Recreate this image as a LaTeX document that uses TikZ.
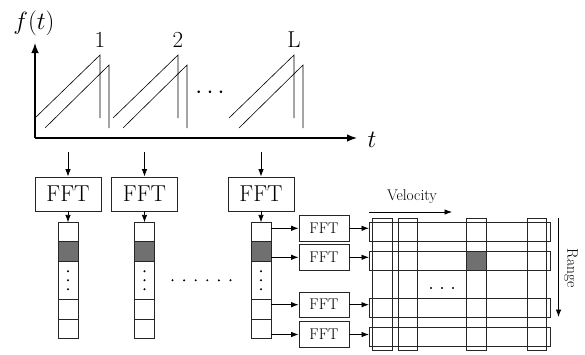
\documentclass[tikz,border=0pt]{standalone}
\usepackage{tikz}
\usetikzlibrary{arrows.meta,positioning,calc}
\definecolor{cellgray}{HTML}{707070}
\definecolor{linegray}{HTML}{262626}

\begin{document}
\begin{tikzpicture}[x=1pt,y=-1pt,
    fftbig/.style={draw=linegray,line width=0.8pt,minimum width=66pt,minimum height=34pt,inner sep=0pt,font=\fontsize{23}{27}\selectfont},
    fftsmall/.style={draw=linegray,line width=0.8pt,minimum width=50pt,minimum height=25.5pt,inner sep=0pt,font=\fontsize{15.5}{18}\selectfont},
    cell/.style={draw=linegray,line width=0.8pt,minimum width=20pt,minimum height=19.3pt,inner sep=0pt,outer sep=0pt},
    band/.style={draw=linegray,line width=0.8pt,inner sep=0pt,outer sep=0pt},
    arr/.style={-{Latex[length=7.5pt,width=5.5pt]},line width=0.8pt},
    axis/.style={-{Latex[length=10pt,width=7.5pt]},line width=1.3pt},
    lbl/.style={font=\fontsize{23}{27}\selectfont,inner sep=0pt}
]
\useasboundingbox (0,0) rectangle (585,354);

% signal with L chirps
\coordinate (O) at (35,138);
\coordinate (ytop) at (35,43);
\coordinate (xend) at (357,138);
\draw[axis] (O) -- (ytop);
\draw[axis] (O) -- (xend);
\node[lbl] (ft) at (34,23) {$f(t)$};
\node[lbl] (tl) at (372,140) {$t$};
\foreach \x/\n in {35/1,113/2,229/L} {
  \draw[line width=0.6pt] (\x,118) -- ++(65,-63) -- ++(0,63);
  \draw[line width=0.6pt] (\x+10,128) -- ++(64,-63) -- ++(0,63);
  \node[lbl] at (\x+65,40) {\n};
}
\node[lbl] (sdots) at (210,93) {$\cdots$};

% range FFT per chirp
\foreach \i/\x in {1/68,2/144.5,3/261} {
  \coordinate (in\i) at (\x,152);
  \node[fftbig] (F\i) at (\x,194) {FFT};
  \node[cell,below=11pt of F\i] (k\i-1) {};
  \node[cell,below=0pt of k\i-1,fill=cellgray] (k\i-2) {};
  \node[cell,below=0pt of k\i-2,minimum height=38.6pt] (k\i-3) {};
  \node[cell,below=0pt of k\i-3] (k\i-4) {};
  \node[cell,below=0pt of k\i-4] (k\i-5) {};
  \draw[arr] (in\i) -- (F\i);
  \draw[arr] (F\i) -- (k\i-1);
  \foreach \d in {-9,0,9}
    \fill ($(k\i-3)+(0,\d)$) circle (1.1pt);
}
\foreach \d in {0,...,5}
  \fill ($(k2-3.east)+(18+\d*11.6,0)$) circle (1.1pt);

% doppler FFT per range bin
\foreach \j/\y in {1/228.3,2/257.3,3/304.7,4/334.5}
  \node[fftsmall] (s\j) at (324,\y) {FFT};

% range-velocity map
\foreach \j/\y in {1/231.8,2/260.5,3/308.3,4/337.2}
  \node[band,minimum width=181pt,minimum height=19pt] (r\j) at (459.5,\y) {};
\foreach \j/\x in {1/382.5,2/408,3/476.2,4/537}
  \node[band,minimum width=19.5pt,minimum height=132.4pt] (v\j) at (\x,284.5) {};
\node[band,fill=cellgray,minimum width=19.5pt,minimum height=19pt] (hit) at (v3 |- r2) {};
\foreach \d in {431,442,453}
  \fill (\d,288) circle (1.1pt);

\foreach \j in {1,...,4} {
  \draw[arr] (s\j -| k3-1.east) -- (s\j);
  \draw[arr] (s\j) -- (s\j -| r\j.west);
}

% axes of the map
\coordinate (v0) at (369,212);
\coordinate (v1) at (452,212);
\draw[arr] (v0) -- (v1);
\node[font=\fontsize{15.5}{18}\selectfont] (vel) at (412,197) {Velocity};
\coordinate (g0) at (558.5,218);
\coordinate (g1) at (558.5,317);
\draw[arr] (g0) -- (g1);
\node[font=\fontsize{15.5}{18}\selectfont,rotate=-90] (rng) at (571,268) {Range};
\end{tikzpicture}
\end{document}
